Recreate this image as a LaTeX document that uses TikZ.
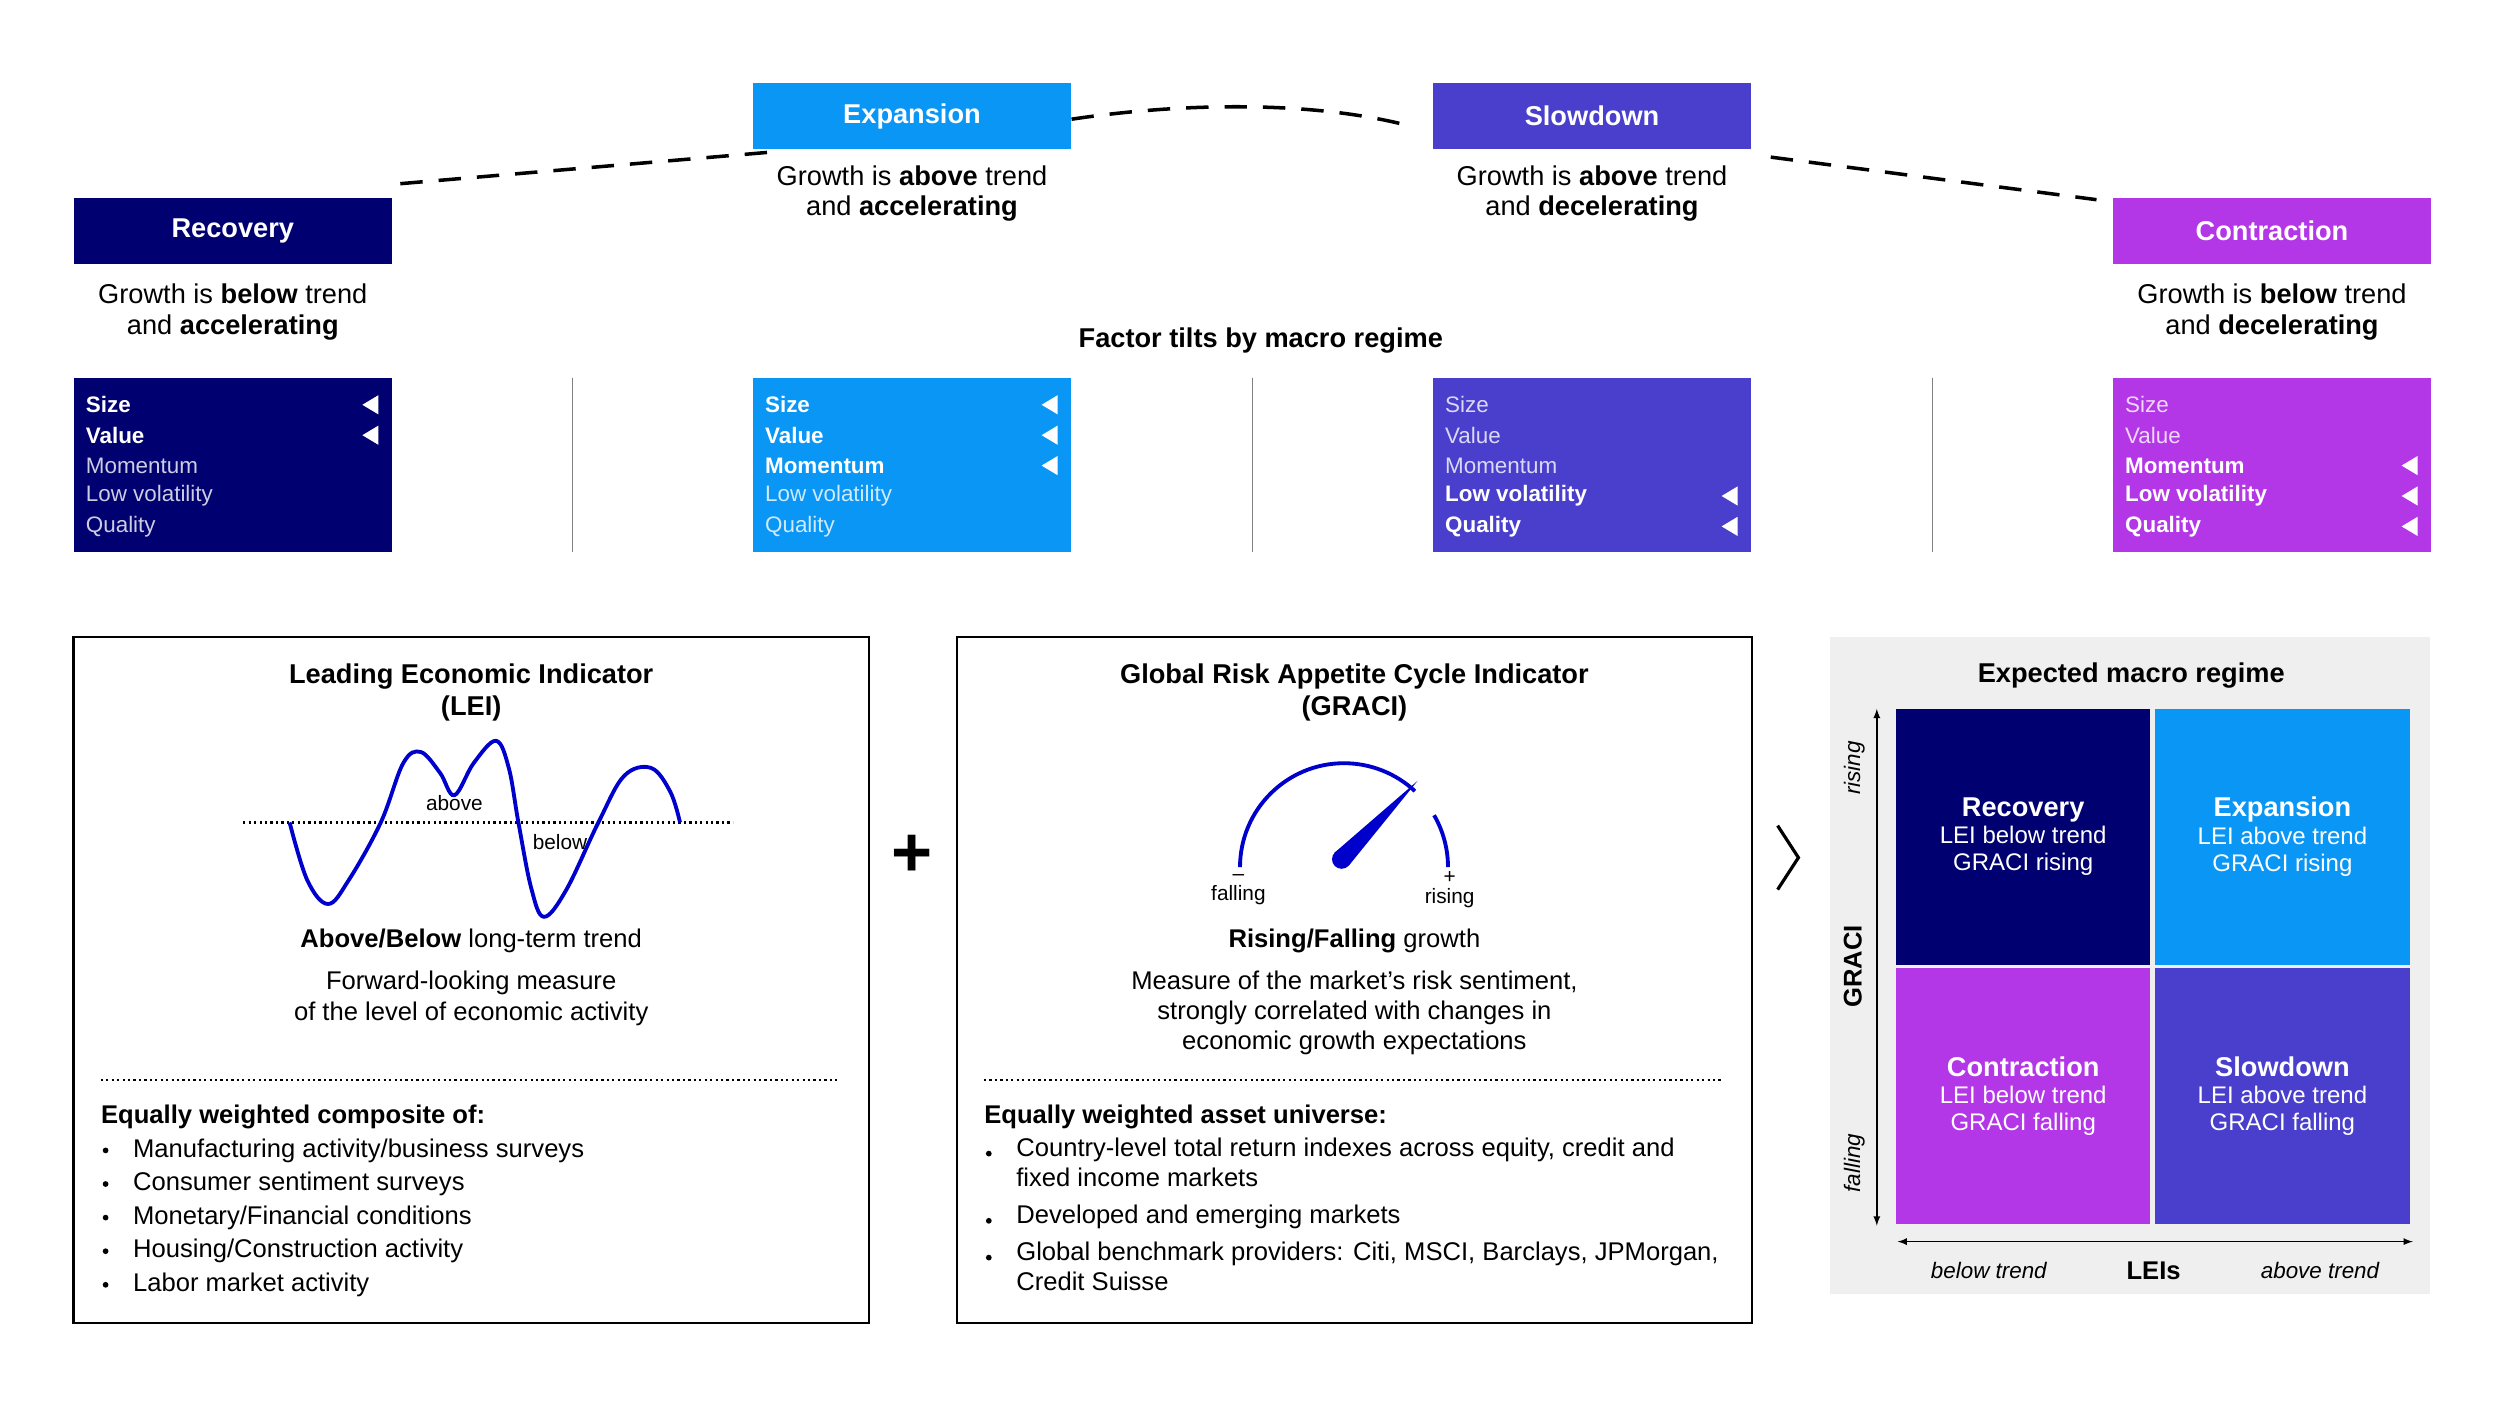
\documentclass[tikz,border=0pt]{standalone}
\usepackage{fontspec}
\setmainfont{Liberation Sans}
\usetikzlibrary{positioning}
\definecolor{recC}{HTML}{000070}
\definecolor{expC}{HTML}{0A96F5}
\definecolor{sloC}{HTML}{4A3FCC}
\definecolor{conC}{HTML}{B337E6}
\definecolor{waveC}{HTML}{0000CC}
\definecolor{panelC}{HTML}{EFEFEF}
\tikzset{
  head/.style={fill=#1,minimum width=199pt,minimum height=41pt,inner sep=0pt,text=white,font=\fontsize{17}{20}\selectfont\bfseries},
  desc/.style={align=center,font=\fontsize{17}{19}\selectfont},
  tiltbox/.style={fill=#1,minimum width=199pt,minimum height=109pt,inner sep=0pt},
  item/.style={anchor=west,inner sep=0pt,font=\fontsize{14}{16}\selectfont,text=white},
  quad/.style={fill=#1,minimum width=159pt,minimum height=160pt,inner sep=0pt,align=center,text=white,font=\fontsize{15}{17}\selectfont},
  body/.style={align=center,font=\fontsize{16}{19}\selectfont},
  bul/.style={anchor=west,inner sep=0pt,align=left,font=\fontsize{16}{19}\selectfont},
  regime/.style={line width=2.2pt,dash pattern=on 14pt off 10pt},
}
\begin{document}
\begin{tikzpicture}[x=1pt,y=-1pt,>=latex]
\useasboundingbox (0,0) rectangle (1560,878);
%%%%%%%% regime headers
\node[head=recC] (rec) at (145.5,144.5) {Recovery};
\node[head=expC] (exp) at (570,72.5) {Expansion};
\node[head=sloC] (slo) at (995,72.5) {Slowdown};
\node[head=conC] (con) at (1420,144.5) {Contraction};
\node[desc] (recd) at (145.5,195) {Growth is \textbf{below} trend\\and \textbf{accelerating}};
\node[desc] (expd) at (570,121) {Growth is \textbf{above} trend\\and \textbf{accelerating}};
\node[desc] (slod) at (995,121) {Growth is \textbf{above} trend\\and \textbf{decelerating}};
\node[desc] (cond) at (1420,195) {Growth is \textbf{below} trend\\and \textbf{decelerating}};
\draw[regime] ([xshift=5pt,yshift=9pt]rec.north east) -- ([xshift=10pt,yshift=-2pt]exp.south west);
\draw[regime] ([yshift=-2pt]exp.east) .. controls (740,64) and (820,63) .. ([xshift=-15pt,yshift=-6pt]slo.west);
\draw[regime] ([xshift=12pt,yshift=-5pt]slo.south east) -- ([xshift=-10pt,yshift=-1pt]con.north west);
\node[font=\fontsize{17}{20}\selectfont\bfseries] (tilt) at (788,213) {Factor tilts by macro regime};
%%%%%%%% factor tilts
\foreach \n/\x/\c/\ba/\bb/\bc/\bd/\be in {t1/145.5/recC/1/1/0/0/0,t2/570/expC/1/1/1/0/0,t3/995/sloC/0/0/0/1/1,t4/1420/conC/0/0/1/1/1}{
  \node[tiltbox=\c] (\n) at (\x,290.5) {};
  \foreach \i/\f/\b in {1/Size/\ba,2/Value/\bb,3/Momentum/\bc,4/Low volatility/\bd,5/Quality/\be}{
    \ifnum\b=1
      \node[item,font=\fontsize{14}{16}\selectfont\bfseries] (\n f\i) at (\x-92,234+19*\i) {\f};
      \fill[white] (\x+81,234+19*\i) -- (\x+91,228+19*\i) -- (\x+91,240+19*\i) -- cycle;
    \else
      \node[item,text opacity=0.8] (\n f\i) at (\x-92,234+19*\i) {\f};
    \fi}
}
\foreach \x in {358,783,1208}
  \draw[gray,line width=0.8pt] (\x,236) -- (\x,345);
%%%%%%%% LEI box
\draw[line width=1.5pt] (46,398) rectangle (543,827);
\node[font=\fontsize{17}{20}\selectfont\bfseries,align=center] (leit) at (294.5,433) {Leading Economic Indicator\\(LEI)};
\draw[line width=1.4pt,dotted] (152,514) -- (458,514);
\draw[waveC,line width=2.4pt] plot[smooth,tension=0.6] coordinates {(181,514) (192,550) (205,565) (218,550) (238,514) (252,477) (263,470) (275,483) (284,497) (296,477) (310,463) (318,480) (324,514) (332,555) (340,573) (354,556) (374,514) (390,485) (407,480) (419,495) (425,514)};
\node[font=\fontsize{13}{15}\selectfont] (ab) at (284,502) {above};
\node[font=\fontsize{13}{15}\selectfont] (be) at (350,526) {below};
\node[body] (leis) at (294.5,588) {\textbf{Above/Below} long-term trend};
\node[body] (leid) at (294.5,624) {Forward-looking measure\\of the level of economic activity};
\draw[line width=1.4pt,dotted] (63,675) -- (525,675);
\node[bul,font=\fontsize{16}{19}\selectfont\bfseries] (leih) at (63,698) {Equally weighted composite of:};
\foreach \t [count=\i] in {Manufacturing activity/business surveys,Consumer sentiment surveys,Monetary/Financial conditions,Housing/Construction activity,Labor market activity}{
  \node[bul] (leib\i) at (83,698+21*\i) {\t};
  \fill (66,698+21*\i) circle (1.8pt);}
%%%%%%%% plus
\node[font=\fontsize{44}{44}\selectfont\bfseries] (plus) at (570,535) {+};
%%%%%%%% GRACI box
\draw[line width=1.5pt] (598,398) rectangle (1095,827);
\node[font=\fontsize{17}{20}\selectfont\bfseries,align=center] (grt) at (846.5,433) {Global Risk Appetite Cycle Indicator\\(GRACI)};
\draw[waveC,line width=2.4pt] (775,542) arc[start angle=180,end angle=313,radius=65];
\draw[waveC,line width=2.4pt] (840,542) ++(330:65) arc[start angle=330,end angle=360,radius=65];
\fill[waveC] (886,488) -- (843,541) -- (834,533) -- cycle;
\fill[waveC] (838.5,537) circle (6pt);
\node[font=\fontsize{13}{14}\selectfont,align=center] (fa) at (774,556) {--\\[-2pt]falling};
\node[font=\fontsize{13}{14}\selectfont,align=center] (ri) at (906,556) {+\\[-2pt]rising};
\node[body] (grs) at (846.5,588) {\textbf{Rising/Falling} growth};
\node[body] (grd) at (846.5,633) {Measure of the market’s risk sentiment,\\strongly correlated with changes in\\economic growth expectations};
\draw[line width=1.4pt,dotted] (615,675) -- (1077,675);
\node[bul,font=\fontsize{16}{19}\selectfont\bfseries] (grh) at (615,698) {Equally weighted asset universe:};
\foreach \t/\y [count=\i] in {{Country-level total return indexes across equity, credit and\\fixed income markets}/721,Developed and emerging markets/763,{Global benchmark providers: Citi, MSCI, Barclays, JPMorgan,\\Credit Suisse}/786}{
  \node[bul,anchor=north west] (grb\i) at (635,\y-10) {\t};
  \fill (618,\y) circle (1.8pt);}
%%%%%%%% chevron
\draw[line width=2pt] (1111,516) coordinate (ch1) -- (1124,536) coordinate (ch2) -- (1111,556) coordinate (ch3);
%%%%%%%% expected regime panel
\fill[panelC] (1144,398) rectangle (1519,809);
\node[font=\fontsize{17}{20}\selectfont\bfseries] (ert) at (1332,422) {Expected macro regime};
\node[quad=recC] (q1) at (1264.5,523) {\textbf{\fontsize{17}{20}\selectfont Recovery}\\LEI below trend\\GRACI rising};
\node[quad=expC] (q2) at (1426.5,523) {\textbf{\fontsize{17}{20}\selectfont Expansion}\\LEI above trend\\GRACI rising};
\node[quad=conC] (q3) at (1264.5,685) {\textbf{\fontsize{17}{20}\selectfont Contraction}\\LEI below trend\\GRACI falling};
\node[quad=sloC] (q4) at (1426.5,685) {\textbf{\fontsize{17}{20}\selectfont Slowdown}\\LEI above trend\\GRACI falling};
\coordinate (vt) at (1173,443);
\coordinate (vb) at (1173,766);
\coordinate (hl) at (1186,776);
\coordinate (hr) at (1508,776);
\draw[<->,line width=1pt] (vb) -- (vt);
\draw[<->,line width=1pt] (hl) -- (hr);
\node[rotate=90,font=\fontsize{14}{16}\selectfont\itshape] (ris) at (1159,480) {rising};
\node[rotate=90,font=\fontsize{16}{18}\selectfont\bfseries] (gra) at (1158,604) {GRACI};
\node[rotate=90,font=\fontsize{14}{16}\selectfont\itshape] (fal) at (1159,727) {falling};
\node[font=\fontsize{14}{16}\selectfont\itshape] (bt) at (1243,794) {below trend};
\node[font=\fontsize{16}{18}\selectfont\bfseries] (lei) at (1346,794) {LEIs};
\node[font=\fontsize{14}{16}\selectfont\itshape] (at) at (1450,794) {above trend};
\end{tikzpicture}
\end{document}
